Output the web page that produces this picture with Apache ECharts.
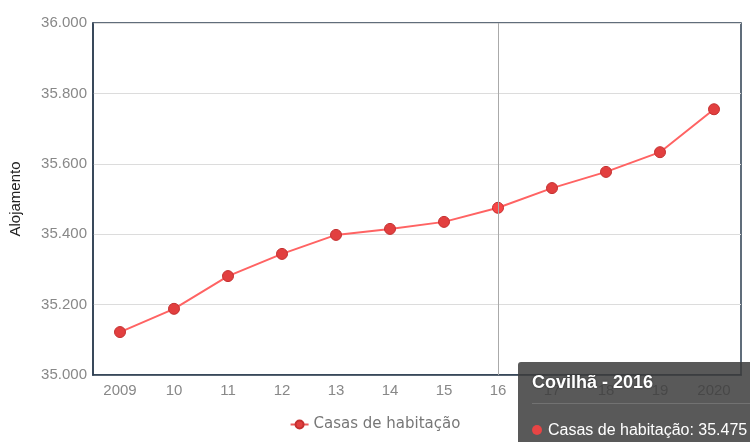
<!DOCTYPE html>
<html>
<head>
<meta charset="utf-8">
<script src="https://cdn.jsdelivr.net/npm/echarts@6/dist/echarts.min.js"></script>
<style>
html, body { margin: 0; padding: 0; background: #fff; }
#chart { width: 750px; height: 442px; overflow: hidden; }
</style>
</head>
<body>
<div id="chart"></div>
<script>
// dados
var anos = ['2009', '10', '11', '12', '13', '14', '15', '16', '17', '18', '19', '2020'];
var anosCompletos = ['2009', '2010', '2011', '2012', '2013', '2014', '2015', '2016', '2017', '2018', '2019', '2020'];
var casas = [35122, 35188, 35281, 35344, 35398, 35415, 35435, 35475, 35531, 35577, 35633, 35755];
var serieNome = 'Casas de habitação';
var local = 'Covilhã';

// formato 35.000
function fmt(v) {
    return Math.round(v).toString().replace(/\B(?=(\d{3})+(?!\d))/g, '.');
}

var chart = echarts.init(document.getElementById('chart'));

var option = {
    animation: false,
    grid: {
        left: 93, right: 9, top: 23, bottom: 67,
        show: true,
        borderColor: '#2c3e50',
        borderWidth: 1.5
    },
    tooltip: {
        trigger: 'axis',
        alwaysShowContent: true,
        backgroundColor: 'rgba(60,60,60,0.85)',
        borderWidth: 0,
        padding: [10, 14, 8, 14],
        extraCssText: 'border-radius:3px;box-shadow:none;min-width:230px;',
        position: function () { return [518, 362]; },
        axisPointer: {
            type: 'line',
            lineStyle: { color: '#aaa', width: 1, type: 'solid' }
        },
        formatter: function (params) {
            var p = params[0];
            return '<div style="font:bold 18px Arial,sans-serif;color:#fff;text-shadow:0 0 2px #222;padding-bottom:10px;border-bottom:1px solid rgba(255,255,255,0.15);margin-bottom:17px;">' +
                local + ' - ' + anosCompletos[p.dataIndex] + '</div>' +
                '<div style="font:16px Arial,sans-serif;color:#fff;white-space:nowrap;">' +
                '<span style="display:inline-block;width:10px;height:10px;border-radius:50%;background:#e84545;margin-right:6px;"></span>' +
                p.seriesName + ': ' + fmt(p.value) + '</div>';
        }
    },
    legend: {
        bottom: 5,
        left: 'center',
        itemWidth: 18,
        itemHeight: 10,
        itemGap: 6,
        textStyle: { color: '#777', fontSize: 15, fontFamily: 'DejaVu Sans' },
        data: [serieNome]
    },
    xAxis: {
        type: 'category',
        data: anos,
        boundaryGap: true,
        axisLine: { lineStyle: { color: '#2c3e50', width: 1.5 } },
        axisTick: { show: false },
        axisLabel: { color: '#888', fontSize: 15, fontFamily: 'Arial', margin: 8 },
        splitLine: { show: false }
    },
    yAxis: {
        type: 'value',
        min: 35000,
        max: 36000,
        interval: 200,
        name: 'Alojamento',
        nameLocation: 'middle',
        nameGap: 70,
        nameTextStyle: { color: '#222', fontSize: 15, fontFamily: 'Arial' },
        axisLine: { show: true, lineStyle: { color: '#2c3e50', width: 1.5 } },
        axisTick: { show: false },
        axisLabel: { color: '#888', fontSize: 15, fontFamily: 'Arial', margin: 6, formatter: fmt },
        splitLine: { lineStyle: { color: '#dcdcdc', width: 1 } }
    },
    series: [{
        name: serieNome,
        type: 'line',
        data: casas,
        symbol: 'circle',
        symbolSize: 11,
        lineStyle: { color: '#ec5a5a', width: 2 },
        itemStyle: { color: '#e23f3f', borderColor: '#c43030', borderWidth: 1 },
        emphasis: { scale: false }
    }]
};

chart.setOption(option);
chart.dispatchAction({ type: 'showTip', seriesIndex: 0, dataIndex: 7 });
</script>
</body>
</html>
